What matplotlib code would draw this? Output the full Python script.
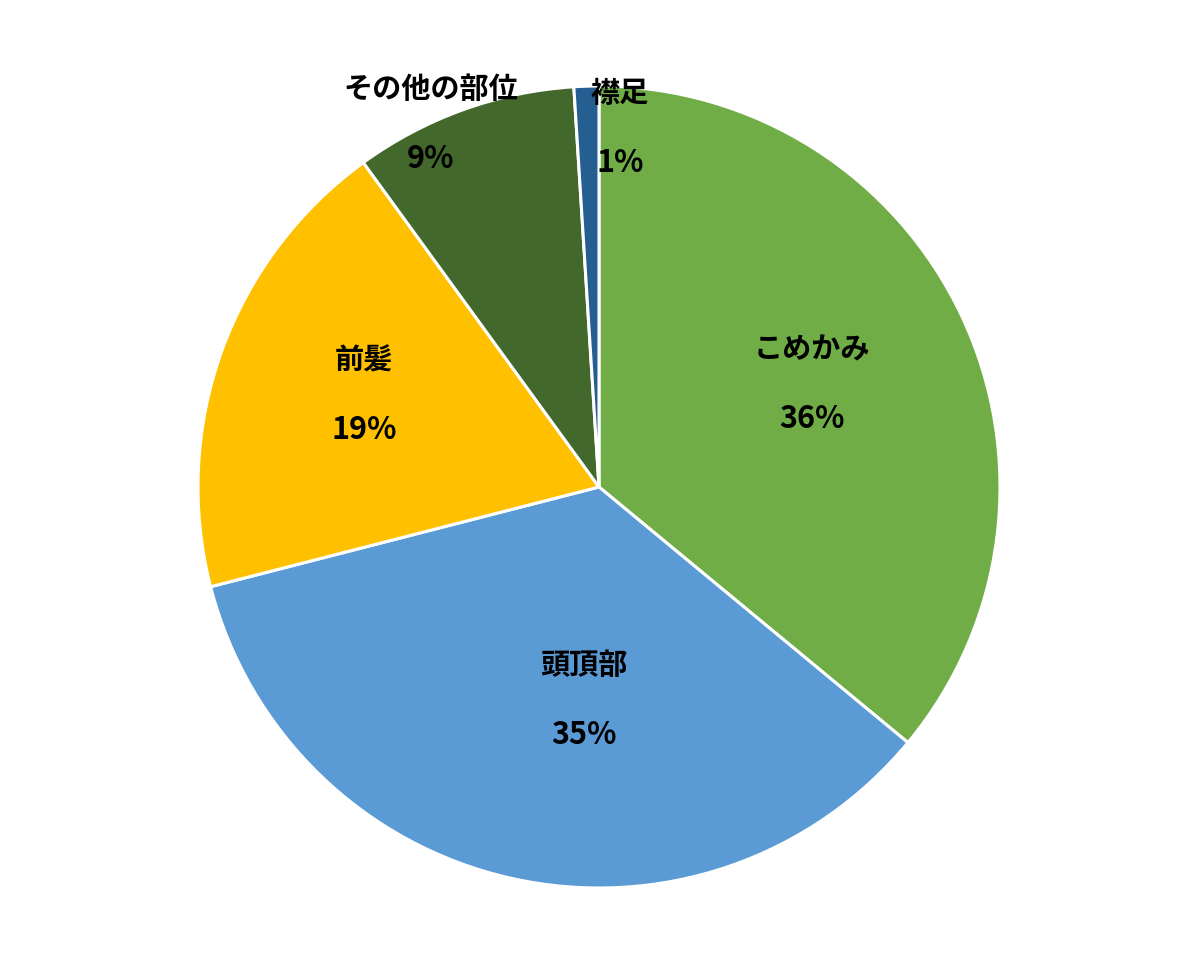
import numpy as np
import matplotlib.pyplot as plt

plt.rcParams['font.family'] = ['Noto Sans CJK JP', 'DejaVu Sans']

labels = ["こめかみ", "頭頂部", "前髪", "その他の部位", "襟足"]
values = [36, 35, 19, 9, 1]
colors = ["#70AD47", "#5B9BD5", "#FFC000", "#43682B", "#255E91"]
# label placement (radius fraction, angle in degrees)
label_pos = [(0.59, 26), (0.53, -94), (0.63, 158.5), (1.0, 114.8), (0.9, 86.7)]

fig = plt.figure(figsize=(12, 9.79), dpi=100)
ax = fig.add_axes([0, 0, 1, 1])
ax.pie(values, colors=colors, startangle=90, counterclock=False, radius=1,
       wedgeprops=dict(edgecolor="white", linewidth=2.2))
ax.set_xlim(-599 / 401, 601 / 401)
ax.set_ylim(-491 / 401, 488 / 401)
ax.set_aspect("equal")
ax.axis("off")

for lab, v, (r, a) in zip(labels, values, label_pos):
    x, y = r * np.cos(np.radians(a)), r * np.sin(np.radians(a))
    ax.text(x, y + 0.087, lab, ha="center", va="center", fontsize=21, fontweight="bold")
    ax.text(x, y - 0.087, f"{v}%", ha="center", va="center", fontsize=22, fontweight="bold")

fig.savefig("out.png")
